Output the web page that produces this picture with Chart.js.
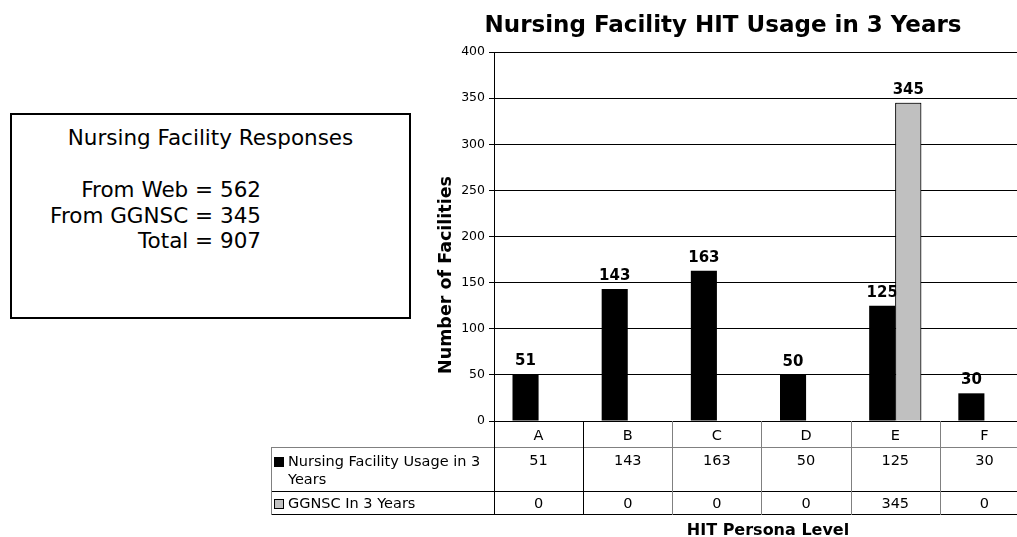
<!DOCTYPE html>
<html>
<head>
<meta charset="utf-8">
<script src="https://cdn.jsdelivr.net/npm/chart.js@4.4.0/dist/chart.umd.min.js"></script>
<style>
  html, body { margin: 0; padding: 0; background: #fff; overflow: hidden; width: 1017px; height: 537px; }
  #wrap { position: absolute; left: 0; top: 0; width: 1029px; height: 537px; }
  #note { position: absolute; left: 10px; top: 113px; width: 397px; height: 202px; border: 2px solid #000;
          font-family: "DejaVu Sans", Verdana, sans-serif; font-size: 21.5px; color: #000; }
  #note .head { position: absolute; left: 0; width: 397px; top: 10px; text-align: center; }
  #note .lines { position: absolute; right: 148px; top: 62px; text-align: right; line-height: 25.5px; }
</style>
</head>
<body>
<div id="note">
  <div class="head">Nursing Facility Responses</div>
  <div class="lines">From Web = 562<br>From GGNSC = 345<br>Total = 907</div>
</div>
<div id="wrap"><canvas id="chart" width="1029" height="537"></canvas></div>
<script>
// --- DATA ---
const categories = ['A', 'B', 'C', 'D', 'E', 'F'];
const nursingUsage = [51, 143, 163, 50, 125, 30];
const ggnscUsage = [0, 0, 0, 0, 345, 0];
const seriesNames = ['Nursing Facility Usage in 3 Years', 'GGNSC In 3 Years'];
const yTicks = [0, 50, 100, 150, 200, 250, 300, 350, 400];

const FONT = '"DejaVu Sans", Verdana, sans-serif';

function drawLabels(chart, idx) {
    const ctx = chart.ctx;
    const meta = chart.getDatasetMeta(idx);
    const data = chart.data.datasets[idx].data;
    ctx.save();
    ctx.font = 'bold 15px ' + FONT;
    ctx.fillStyle = '#000';
    ctx.textAlign = 'center';
    ctx.textBaseline = 'alphabetic';
    meta.data.forEach((bar, i) => {
        if (!data[i]) return;
        ctx.fillText(String(data[i]), bar.x, bar.y - 9);
    });
    ctx.restore();
}

// black series labels sit under the grey bars, like the original
const labelPlugin = {
    id: 'labels',
    afterDatasetsDraw(chart) {
        drawLabels(chart, 0);
        chart.getDatasetMeta(1).controller.draw();
        drawLabels(chart, 1);
    }
};

const tablePlugin = {
    id: 'dataTable',
    afterDraw(chart) {
        const ctx = chart.ctx;
        const area = chart.chartArea;
        const xs = chart.scales.x;
        const w = xs.getPixelForValue(1) - xs.getPixelForValue(0);
        const y0 = area.bottom, y1 = 447, y2 = 491, y3 = 514;
        const legL = 271;
        const right = area.right;

        ctx.save();
        // titles
        ctx.fillStyle = '#000';
        ctx.textAlign = 'center';
        ctx.font = 'bold 23px ' + FONT;
        ctx.fillText('Nursing Facility HIT Usage in 3 Years', 723, 32);
        ctx.font = 'bold 16px ' + FONT;
        ctx.fillText('HIT Persona Level', 768, 535);
        ctx.save();
        ctx.translate(451, 275);
        ctx.rotate(-Math.PI / 2);
        ctx.font = 'bold 17.5px ' + FONT;
        ctx.fillText('Number of Facilities', 0, 0);
        ctx.restore();

        // table grid
        const hline = (y, x1, x2, col) => {
            ctx.strokeStyle = col; ctx.lineWidth = 1;
            ctx.beginPath(); ctx.moveTo(x1, y + 0.5); ctx.lineTo(x2, y + 0.5); ctx.stroke();
        };
        const vline = (x, ya, yb, col) => {
            ctx.strokeStyle = col; ctx.lineWidth = 1;
            ctx.beginPath(); ctx.moveTo(Math.round(x) + 0.5, ya); ctx.lineTo(Math.round(x) + 0.5, yb); ctx.stroke();
        };
        hline(y1, legL, right, '#808080');
        hline(y2, legL, right, '#000');
        hline(y3, legL, right, '#000');
        vline(legL, y1, y3 + 1, '#808080');
        vline(area.left, y0, y3 + 1, '#000');
        for (let i = 1; i < categories.length; i++) {
            vline(area.left + i * w, y0, y3 + 1, i === 1 ? '#000' : '#808080');
        }

        // cells
        ctx.font = '14.5px ' + FONT;
        ctx.textAlign = 'center';
        categories.forEach((c, i) => {
            const cx = xs.getPixelForValue(i);
            ctx.fillText(c, cx, 440);
            ctx.fillText(String(nursingUsage[i]), cx, 465);
            ctx.fillText(String(ggnscUsage[i]), cx, 508);
        });

        // legend keys
        ctx.textAlign = 'left';
        ctx.fillStyle = '#000';
        ctx.fillRect(274, 457, 10, 10);
        ctx.fillStyle = '#c0c0c0';
        ctx.fillRect(274, 499, 10, 10);
        ctx.strokeStyle = '#000';
        ctx.strokeRect(274.5, 499.5, 9, 9);
        ctx.fillStyle = '#000';
        ctx.fillText('Nursing Facility Usage in 3', 288, 466);
        ctx.fillText('Years', 288, 484);
        ctx.fillText(seriesNames[1], 288, 508);
        ctx.restore();
    }
};

new Chart(document.getElementById('chart'), {
    type: 'bar',
    data: {
        labels: categories,
        datasets: [
            { label: seriesNames[0], data: nursingUsage, backgroundColor: '#000', borderColor: '#000', borderWidth: 0 },
            { label: seriesNames[1], data: ggnscUsage, backgroundColor: '#c0c0c0', borderColor: '#000', borderWidth: 1 }
        ]
    },
    options: {
        responsive: false,
        animation: false,
        devicePixelRatio: 1,
        layout: { padding: { left: 434, top: 52, right: 0, bottom: 116 } },
        datasets: { bar: { categoryPercentage: 0.585, barPercentage: 1.0 } },
        plugins: { legend: { display: false }, tooltip: { enabled: false } },
        scales: {
            x: { display: false },
            y: {
                min: 0, max: 400,
                afterFit(scale) { scale.width = 60; },
                afterBuildTicks(scale) { scale.ticks = yTicks.map(v => ({ value: v })); },
                ticks: { color: '#000', font: { family: FONT, size: 12.5 }, padding: 4 },
                grid: { color: '#000', lineWidth: 1, tickLength: 5, drawTicks: true },
                border: { display: true, color: '#000', width: 1 }
            }
        }
    },
    plugins: [labelPlugin, tablePlugin]
});
</script>
</body>
</html>
